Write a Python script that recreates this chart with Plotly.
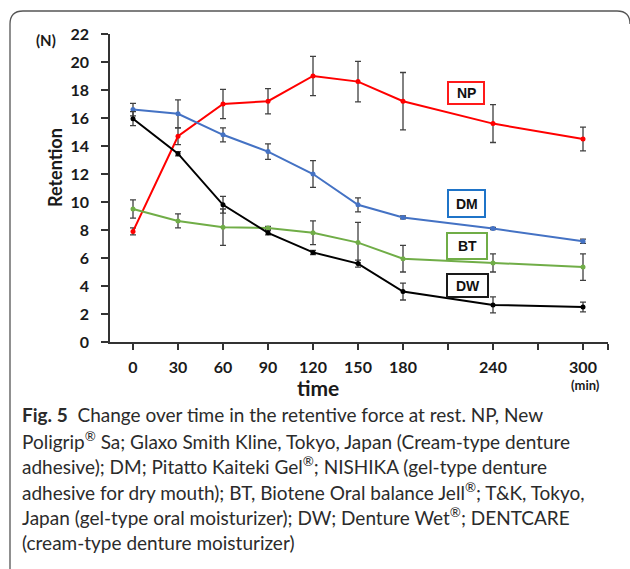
import plotly.graph_objects as go

# ---- data ----
time_min = [0, 30, 60, 90, 120, 150, 180, 240, 300]

np_mean = [7.9, 14.7, 17.0, 17.2, 19.0, 18.6, 17.2, 15.6, 14.5]
np_err = [0.25, 0.6, 1.05, 0.9, 1.4, 1.45, 2.05, 1.35, 0.85]

dm_mean = [16.6, 16.3, 14.8, 13.6, 12.0, 9.8, 8.9, 8.1, 7.2]
dm_err = [0.45, 1.0, 0.5, 0.55, 0.95, 0.5, 0.1, 0.08, 0.15]

bt_mean = [9.5, 8.65, 8.2, 8.15, 7.8, 7.1, 5.95, 5.65, 5.35]
bt_err = [0.65, 0.5, 1.3, 0.1, 0.85, 1.45, 0.95, 0.65, 0.95]

dw_mean = [15.95, 13.45, 9.8, 7.8, 6.4, 5.6, 3.6, 2.65, 2.5]
dw_err = [0.5, 0.15, 0.6, 0.15, 0.15, 0.25, 0.6, 0.57, 0.35]

x_tick_vals = [0, 30, 60, 90, 120, 150, 180, 240, 300]
x_tick_labels = ["0", "30", "60", "90", "120", "150", "180", "240", "300"]
x_unlabelled_ticks = [210, 270, 316.6]

series_names = ["NP", "DM", "BT", "DW"]
series_colors = ["#ff0000", "#4472c4", "#70ad47", "#000000"]
box_colors = ["#ff1a1a", "#1f74c8", "#70ad47", "#1a1a1a"]

caption_lines = [
    "<b>Fig. 5</b>  Change over time in the retentive force at rest. NP, New",
    "Poligrip<sup>®</sup> Sa; Glaxo Smith Kline, Tokyo, Japan (Cream-type denture",
    "adhesive); DM; Pitatto Kaiteki Gel<sup>®</sup>; NISHIKA (gel-type denture",
    "adhesive for dry mouth); BT, Biotene Oral balance Jell<sup>®</sup>; T&amp;K, Tokyo,",
    "Japan (gel-type oral moisturizer); DW; Denture Wet<sup>®</sup>; DENTCARE",
    "(cream-type denture moisturizer)",
]

# ---- layout geometry (pixels) ----
W, H = 630, 569
L, R, T, B = 110, 22, 34, 227
PW = W - L - R
PH = H - T - B


def px(x):
    return (x - L) / PW


def py(y):
    return (H - B - y) / PH


fig = go.Figure()

means = [np_mean, dm_mean, bt_mean, dw_mean]
errs = [np_err, dm_err, bt_err, dw_err]
for name, col, m, e in zip(series_names, series_colors, means, errs):
    fig.add_trace(go.Scatter(
        x=time_min, y=m, name=name, mode="lines+markers",
        line=dict(color=col, width=2),
        marker=dict(color=col, size=5),
        error_y=dict(type="data", array=e, visible=True,
                     color="#404040", thickness=1.3, width=3),
        showlegend=False,
    ))

tickfont = dict(family="Lato, Open Sans, sans-serif", size=16,
                color="#1a1a1a", weight="bold")

fig.update_xaxes(
    range=[-15.33, 316.67], tickmode="array", tickvals=x_tick_vals,
    ticktext=x_tick_labels, showline=True, linecolor="#333333", linewidth=1.5,
    ticks="outside", ticklen=6, tickcolor="#333333", tickwidth=1.5,
    showgrid=False, zeroline=False, tickfont=tickfont, ticklabelstandoff=4,
    minor=dict(tickmode="array", tickvals=x_unlabelled_ticks, ticks="outside",
               ticklen=6, tickcolor="#333333", tickwidth=1.5, showgrid=False),
)
fig.update_yaxes(
    range=[0, 22], dtick=2, tick0=0, showline=True, linecolor="#333333",
    linewidth=1.5, ticks="outside", ticklen=7, tickcolor="#333333",
    tickwidth=1.5, showgrid=False, zeroline=False, tickfont=tickfont,
    ticklabelstandoff=9,
)

ann = []
bold = dict(family="Lato, Open Sans, sans-serif", color="#1a1a1a", weight="bold")
ann.append(dict(text="(N)", x=px(46), y=py(40), font=dict(size=15, **bold)))
ann.append(dict(text="Retention", x=px(55), y=py(168), textangle=-90,
                font=dict(size=18, **bold)))
ann.append(dict(text="time", x=px(318), y=py(387), font=dict(size=21, **bold)))
ann.append(dict(text="(min)", x=px(585), y=py(385), font=dict(size=13, **bold)))

# series label boxes
boxes = [(448, 82, 484, 104), (448, 190, 485, 217), (447, 233, 487, 259), (447, 274, 488, 297)]
shapes = []
for name, col, (x0, y0, x1, y1) in zip(series_names, box_colors, boxes):
    shapes.append(dict(type="rect", xref="paper", yref="paper",
                       x0=px(x0), x1=px(x1), y0=py(y1), y1=py(y0),
                       line=dict(color=col, width=2), fillcolor="white", layer="above"))
    ann.append(dict(text=name, x=px((x0 + x1) / 2), y=py((y0 + y1) / 2),
                    font=dict(family="Liberation Sans, Arial, sans-serif", size=14,
                              color="#111111", weight="bold")))

# caption
cap_y = [414, 440, 465, 491, 516, 542]
for line, yy in zip(caption_lines, cap_y):
    ann.append(dict(text=line, x=px(20), y=py(yy), xanchor="left", yanchor="middle",
                    align="left",
                    font=dict(family="Lato, sans-serif", size=19, color="#2b2b2b")))

for a in ann:
    a.setdefault("xref", "paper")
    a.setdefault("yref", "paper")
    a.setdefault("showarrow", False)
    a.setdefault("xanchor", "center")
    a.setdefault("yanchor", "middle")

# rounded outer frame
r = 13
fx0, fy0, fx1, fy1 = 10, 11, 630, 582
path = (f"M {px(fx1)},{py(fy0 + r)} Q {px(fx1)},{py(fy0)} {px(fx1 - r)},{py(fy0)} "
        f"L {px(fx0 + r)},{py(fy0)} Q {px(fx0)},{py(fy0)} {px(fx0)},{py(fy0 + r)} "
        f"L {px(fx0)},{py(fy1 - r)} Q {px(fx0)},{py(fy1)} {px(fx0 + r)},{py(fy1)}")
shapes.append(dict(type="path", xref="paper", yref="paper", path=path,
                   line=dict(color="#555555", width=1.3)))

fig.update_layout(
    width=W, height=H, autosize=False,
    margin=dict(l=L, r=R, t=T, b=B, pad=0),
    paper_bgcolor="white", plot_bgcolor="white",
    annotations=ann, shapes=shapes,
)

fig.write_html("out.html", config={"displayModeBar": False},
               post_script="document.body.style.margin='0';document.body.style.overflow='hidden';")
